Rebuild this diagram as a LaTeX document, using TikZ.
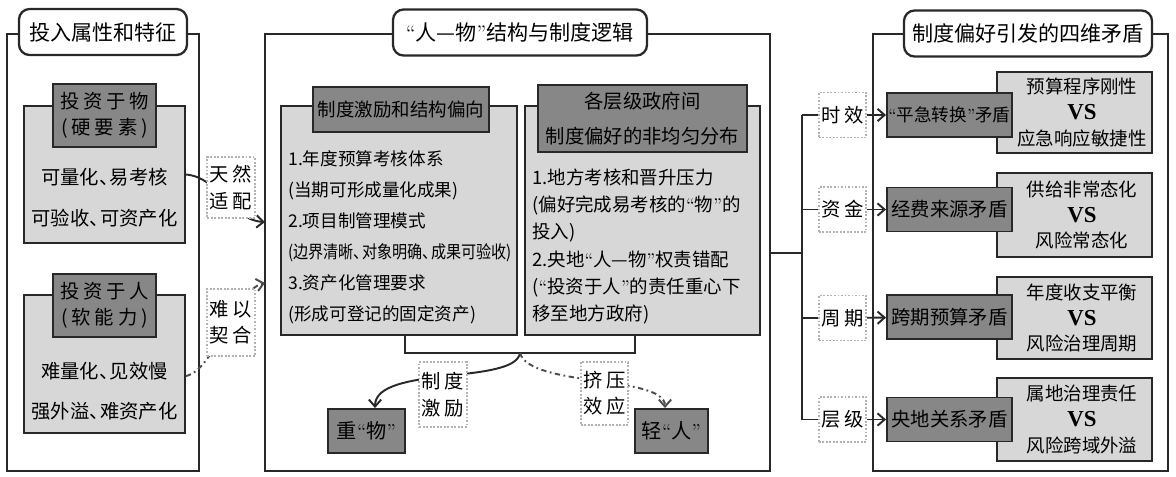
\documentclass[tikz,border=0pt]{standalone}
\usepackage{fontspec}
\newfontfamily\cjk{Noto Sans CJK SC}
\newfontfamily\cjkwide[LetterSpace=20]{Noto Sans CJK SC}
\newfontfamily\vsfont{Liberation Serif}
\usetikzlibrary{arrows.meta}
\definecolor{softgray}{RGB}{215,215,215}
\definecolor{deepgray}{RGB}{135,135,135}
\definecolor{linegray}{RGB}{40,40,40}
\newcommand\dun{、\kern-.45em}
\newcommand\qo{{\rmfamily “}}
\newcommand\qc{{\rmfamily ”}}
\newcommand\vs{{\vsfont\bfseries\fontsize{13}{14.7}\selectfont VS}}

\begin{document}
\begin{tikzpicture}[
    panel/.style={rectangle, draw=linegray, line width=1.3pt, minimum height=8.74cm},
    paneltitle/.style={rectangle, draw=linegray, line width=1.3pt, rounded corners=6pt, fill=white, minimum height=0.92cm, inner xsep=2pt, font=\cjk\fontsize{12}{14}\selectfont},
    softbox/.style={rectangle, draw=linegray, line width=1.1pt, fill=softgray},
    headbox/.style={rectangle, draw=linegray, line width=1.1pt, fill=deepgray, align=center, inner xsep=1pt},
    tagbox/.style={rectangle, draw=gray!60, densely dotted, line width=1pt, fill=white, align=center, inner xsep=1pt, minimum width=0.95cm, font=\cjkwide\fontsize{11}{15}\selectfont},
    body/.style={align=left, inner sep=0pt, font=\cjk\fontsize{10}{17.6}\selectfont},
    link/.style={draw=linegray, line width=1.1pt, -{Straight Barb[length=4pt,width=7pt]}},
    weaklink/.style={link, draw=gray!60!black, dash pattern=on 3pt off 2pt on 1pt off 2pt}
]
    \useasboundingbox (0,0) rectangle (23.52,-9.52);

    % Panels
    \node[panel, minimum width=3.84cm] (inpanel) at (2.06,-5.05) {};
    \node[panel, minimum width=10.1cm] (logicpanel) at (10.35,-5.05) {};
    \node[panel, minimum width=5.9cm] (clashpanel) at (20.41,-5.05) {};
    \node[paneltitle, minimum width=3.36cm] (intitle) at (2.06,-0.64) {投入属性和特征};
    \node[paneltitle, minimum width=5.08cm] (logictitle) at (10.4,-0.65) {\qo 人—物\qc 结构与制度逻辑};
    \node[paneltitle, minimum width=4.96cm] (clashtitle) at (20.56,-0.67) {制度偏好引发的四维矛盾};

    % Left panel
    \node[softbox, minimum width=3.22cm, minimum height=2.74cm] (thingbox) at (2.09,-3.49) {};
    \node[headbox, minimum width=2.06cm, minimum height=1.26cm, font=\cjkwide\fontsize{11}{14.7}\selectfont] (thinghead) at (2.09,-2.31) {投资于物\\(硬要素)};
    \node[body, align=center, font=\cjk\fontsize{11}{23}\selectfont] (thingtext) at (2.09,-3.95) {可量化\dun 易考核\\可验收\dun 可资产化};
    \node[softbox, minimum width=3.22cm, minimum height=2.76cm] (humanbox) at (2.09,-7.28) {};
    \node[headbox, minimum width=2.06cm, minimum height=1.26cm, font=\cjkwide\fontsize{11}{14.7}\selectfont] (humanhead) at (2.09,-6.11) {投资于人\\(软能力)};
    \node[body, align=center, font=\cjk\fontsize{11}{23}\selectfont] (humantext) at (2.09,-7.82) {难量化\dun 见效慢\\强外溢\dun 难资产化};

    \coordinate (fitend) at (5.3,-4.44);
    \coordinate (misfitend) at (5.3,-5.66);
    \draw[link] (thingbox.east) .. controls (4.4,-3.55) and (4.6,-4.4) .. (fitend);
    \draw[weaklink] ([yshift=-0.24cm]humanbox.east) .. controls (4.3,-7.4) and (4.7,-5.8) .. (misfitend);
    \node[tagbox, minimum height=1.22cm] (fittag) at (4.62,-3.75) {天然\\适配};
    \node[tagbox, minimum height=1.35cm] (misfittag) at (4.62,-6.45) {难以\\契合};

    % Middle panel
    \node[softbox, minimum width=4.72cm, minimum height=4.58cm] (biasbox) at (7.98,-4.41) {};
    \node[headbox, minimum width=3.52cm, minimum height=0.9cm, font=\cjk\fontsize{10.5}{14}\selectfont] (biashead) at (8.02,-2.19) {制度激励和结构偏向};
    \node[body, anchor=west] (biastext) at (5.76,-4.75) {1.年度预算考核体系\\(当期可形成量化成果)\\2.项目制管理模式\\\scalebox{.86}[1]{(边界清晰\dun 对象明确\dun 成果可验收)}\\3.资产化管理要求\\(形成可登记的固定资产)};
    \node[softbox, minimum width=4.7cm, minimum height=4.58cm] (levelbox) at (12.85,-4.41) {};
    \node[headbox, minimum width=4.18cm, minimum height=1.34cm, font=\cjk\fontsize{11}{19.5}\selectfont] (levelhead) at (12.85,-2.37) {各层级政府间\\制度偏好的非均匀分布};
    \node[body, anchor=west, font=\cjk\fontsize{10.5}{15.5}\selectfont] (leveltext) at (10.64,-4.93) {1.地方考核和晋升压力\\(偏好完成易考核的\qo 物\qc 的\\投入)\\2.央地\qo 人—物\qc 权责错配\\(\qo 投资于人\qc 的责任重心下\\移至地方政府)};

    \coordinate (bl) at (8.1,-7.06);
    \coordinate (br) at (12.7,-7.06);
    \coordinate (bm) at (10.4,-7.06);
    \draw[linegray, line width=1.1pt] (bl |- biasbox.south) -- (bl) -- (br) -- (br |- levelbox.south);

    \node[headbox, minimum width=1.54cm, minimum height=0.88cm, font=\cjk\fontsize{11.5}{14}\selectfont] (heavything) at (7.33,-8.62) {重\qo 物\qc};
    \node[headbox, minimum width=1.46cm, minimum height=0.88cm, font=\cjk\fontsize{11.5}{14}\selectfont] (lightperson) at (13.43,-8.62) {轻\qo 人\qc};
    \draw[link] (bm) .. controls (10.3,-7.7) and (7.5,-7.3) .. ([xshift=0.17cm]heavything.north);
    \draw[weaklink] (bm) .. controls (10.6,-7.75) and (13.3,-7.5) .. ([xshift=-0.13cm]lightperson.north);
    \node[tagbox, minimum height=1.3cm] (pushtag) at (8.86,-7.89) {制度\\激励};
    \node[tagbox, minimum height=1.26cm] (squeezetag) at (12.09,-7.87) {挤压\\效应};

    % Right panel
    \node[tagbox, minimum height=0.9cm] (timetag) at (16.85,-2.3) {时效};
    \node[tagbox, minimum height=0.9cm] (fundtag) at (16.85,-4.19) {资金};
    \node[tagbox, minimum height=0.9cm] (cycletag) at (16.85,-6.36) {周期};
    \node[tagbox, minimum height=0.9cm] (tiertag) at (16.85,-8.39) {层级};

    \node[softbox, minimum width=3.1cm, minimum height=1.62cm] (timebox) at (21.49,-2.25) {};
    \node[softbox, minimum width=3.1cm, minimum height=1.68cm] (fundbox) at (21.49,-4.3) {};
    \node[softbox, minimum width=3.1cm, minimum height=1.64cm] (cyclebox) at (21.49,-6.36) {};
    \node[softbox, minimum width=3.1cm, minimum height=1.66cm] (tierbox) at (21.49,-8.39) {};
    \node[body, align=center, font=\cjk\fontsize{10.5}{14.7}\selectfont] (timetext) at (21.64,-2.25) {预算程序刚性\\\vs\\应急响应敏捷性};
    \node[body, align=center, font=\cjk\fontsize{10.5}{14.7}\selectfont] (fundtext) at (21.64,-4.3) {供给非常态化\\\vs\\风险常态化};
    \node[body, align=center, font=\cjk\fontsize{10.5}{14.7}\selectfont] (cycletext) at (21.64,-6.36) {年度收支平衡\\\vs\\风险治理周期};
    \node[body, align=center, font=\cjk\fontsize{10.5}{14.7}\selectfont] (tiertext) at (21.64,-8.39) {属地治理责任\\\vs\\风险跨域外溢};

    \node[headbox, minimum width=2.5cm, minimum height=0.88cm, inner xsep=0pt, font=\cjk\fontsize{10}{12}\selectfont] (timeclash) at (18.99,-2.3) {\qo 平急转换\qc 矛盾};
    \node[headbox, minimum width=2.5cm, minimum height=0.88cm, font=\cjk\fontsize{11}{13}\selectfont] (fundclash) at (18.99,-4.19) {经费来源矛盾};
    \node[headbox, minimum width=2.5cm, minimum height=0.88cm, font=\cjk\fontsize{11}{13}\selectfont] (cycleclash) at (18.99,-6.34) {跨期预算矛盾};
    \node[headbox, minimum width=2.5cm, minimum height=0.88cm, font=\cjk\fontsize{11}{13}\selectfont] (tierclash) at (18.99,-8.39) {央地关系矛盾};

    % Arrows
    \coordinate (hub) at (16.04,-5.06);
    \draw[linegray, line width=1.3pt] (logicpanel.east |- hub) -- (hub);
    \draw[linegray, line width=1.1pt] (hub |- timetag) -- (hub |- tiertag);
    \draw[linegray, line width=1.1pt] (hub |- timetag) -- (timetag.west);
    \draw[linegray, line width=1.1pt] (hub |- fundtag) -- (fundtag.west);
    \draw[linegray, line width=1.1pt] (hub |- cycletag) -- (cycletag.west);
    \draw[linegray, line width=1.1pt] (hub |- tiertag) -- (tiertag.west);
    \draw[link] (timetag) -- (timeclash);
    \draw[link] (fundtag) -- (fundclash);
    \draw[link] (cycletag) -- (cycleclash);
    \draw[link] (tiertag) -- (tierclash);
\end{tikzpicture}
\end{document}
